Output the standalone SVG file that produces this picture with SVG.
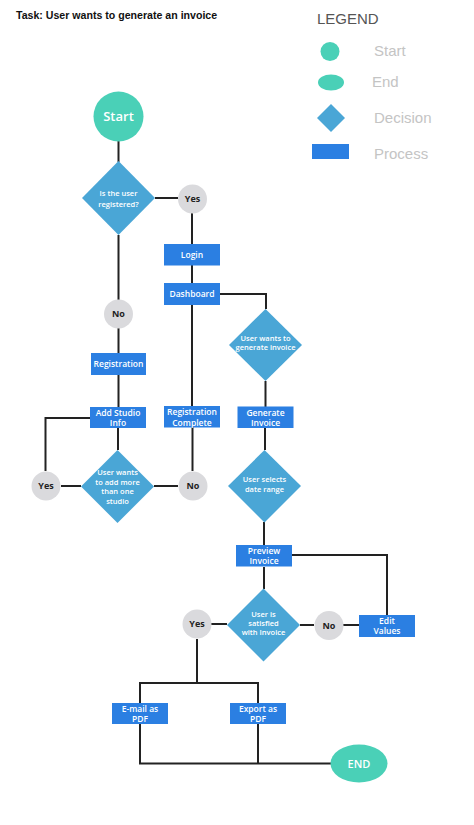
<svg xmlns="http://www.w3.org/2000/svg" width="474" height="825" viewBox="0 0 474 825">
<style>
.ln{fill:none;stroke:#222;stroke-width:2}
.term{fill:#4ad0b7}
.dec{fill:#4aa6d6}
.proc{fill:#2b7fe2}
.yn{fill:#dadadd}
.t{font-family:"Open Sans","Liberation Sans",sans-serif;font-weight:600;fill:#fff;text-anchor:middle}
.p{font-size:8.5px}
.d{font-size:7.5px}
.ynt{font-family:"Open Sans","Liberation Sans",sans-serif;font-weight:700;font-size:9px;fill:#222;text-anchor:middle}
.lg{font-family:"Liberation Sans",sans-serif;font-size:15px;fill:#c4c4c4}
</style>
<rect width="474" height="825" fill="#fff"/>
<text x="16" y="19" font-family="Liberation Sans, sans-serif" font-weight="700" font-size="10.6" fill="#111">Task: User wants to generate an invoice</text>
<g id="legend">
<text x="317" y="24" font-family="Liberation Sans, sans-serif" font-size="15" fill="#555">LEGEND</text>
<circle class="term" cx="330" cy="51.5" r="9.5"/>
<text class="lg" x="374" y="56">Start</text>
<ellipse class="term" cx="331" cy="82.5" rx="13" ry="8"/>
<text class="lg" x="372" y="87">End</text>
<path class="dec" d="M331 104 L345 118 L331 132 L317 118 Z"/>
<text class="lg" x="374" y="123">Decision</text>
<rect class="proc" x="312" y="144" width="37" height="15"/>
<text class="lg" x="374" y="159">Process</text>
</g>
<g id="connectors">
<path class="ln" d="M118.5 141 V162"/>
<path class="ln" d="M155 198 H178"/>
<path class="ln" d="M192 213 V244 M192 265 V283 M192 305 V406"/>
<path class="ln" d="M220 294 H266 V309"/>
<path class="ln" d="M118.5 235 V353 M118.5 375 V407"/>
<path class="ln" d="M118 428 V450"/>
<path class="ln" d="M90 418 H45.5 V471"/>
<path class="ln" d="M61 486 H81"/>
<path class="ln" d="M154 486 H178"/>
<path class="ln" d="M192.5 427 V471"/>
<path class="ln" d="M265.5 381 V407 M265 428 V450"/>
<path class="ln" d="M264 522 V545 M264 567 V589"/>
<path class="ln" d="M292 555 H387 V615"/>
<path class="ln" d="M211 624 H227"/>
<path class="ln" d="M300 625 H314 M343 625 H359"/>
<path class="ln" d="M197 639 V683 M140 703 V683 H258 V703"/>
<path class="ln" d="M140 724 V763.5 H331 M258 724 V763.5"/>
</g>
<g id="start">
<circle class="term" cx="118.5" cy="116.5" r="25"/>
<text class="t" x="118.5" y="121" font-size="13">Start</text>
</g>
<g id="d-registered">
<path class="dec" d="M118.5 161 L155 198 L118.5 235 L82 198 Z"/>
<text class="t d" x="118.5" y="196">Is the user</text>
<text class="t d" x="118.5" y="207">registered?</text>
</g>
<g id="yes1"><circle class="yn" cx="192.5" cy="199" r="14.5"/><text class="ynt" x="192.5" y="202">Yes</text></g>
<g id="login"><rect class="proc" x="164" y="244" width="56" height="21.5"/><text class="t p" x="192" y="258">Login</text></g>
<g id="dashboard"><rect class="proc" x="164" y="283" width="56" height="22"/><text class="t p" x="192" y="297">Dashboard</text></g>
<g id="no1"><circle class="yn" cx="118.5" cy="314" r="14.5"/><text class="ynt" x="118.5" y="317">No</text></g>
<g id="registration"><rect class="proc" x="91" y="353" width="55" height="22"/><text class="t p" x="118.5" y="367">Registration</text></g>
<g id="add-studio"><rect class="proc" x="90" y="407" width="56" height="21"/><text class="t p" x="118" y="415.5">Add Studio</text><text class="t p" x="118" y="426">Info</text></g>
<g id="reg-complete"><rect class="proc" x="164" y="406" width="56" height="21.5"/><text class="t p" x="192" y="415">Registration</text><text class="t p" x="192" y="425.5">Complete</text></g>
<g id="d-studio">
<path class="dec" d="M117.5 450 L154 486.5 L117.5 523 L81 486.5 Z"/>
<text class="t d" x="117.5" y="475">User wants</text>
<text class="t d" x="117.5" y="484.5">to add more</text>
<text class="t d" x="117.5" y="494">than one</text>
<text class="t d" x="117.5" y="503.5">studio</text>
</g>
<g id="yes2"><circle class="yn" cx="46" cy="486" r="14.5"/><text class="ynt" x="46" y="489">Yes</text></g>
<g id="no2"><circle class="yn" cx="193" cy="486" r="14.5"/><text class="ynt" x="193" y="489">No</text></g>
<g id="d-invoice">
<path class="dec" d="M265.5 309 L302 345 L265.5 381 L229 345 Z"/>
<text class="t d" x="265.5" y="340.5">User wants to</text>
<text class="t d" x="265.5" y="350">generate invoice</text>
</g>
<g id="gen-invoice"><rect class="proc" x="237.5" y="406.5" width="56" height="21.5"/><text class="t p" x="265.5" y="415.5">Generate</text><text class="t p" x="265.5" y="426">Invoice</text></g>
<g id="d-date">
<path class="dec" d="M264.5 450 L301 486 L264.5 522.5 L228 486 Z"/>
<text class="t d" x="264.5" y="482">User selects</text>
<text class="t d" x="264.5" y="491.5">date range</text>
</g>
<g id="preview"><rect class="proc" x="236" y="545" width="56" height="21.5"/><text class="t p" x="264" y="553.5">Preview</text><text class="t p" x="264" y="564">Invoice</text></g>
<g id="d-satisfied">
<path class="dec" d="M263.5 588.5 L300 625 L263.5 661.5 L227 625 Z"/>
<text class="t d" x="263.5" y="617">User is</text>
<text class="t d" x="263.5" y="626">satisfied</text>
<text class="t d" x="263.5" y="635">with Invoice</text>
</g>
<g id="yes3"><circle class="yn" cx="197" cy="624" r="14.5"/><text class="ynt" x="197" y="627">Yes</text></g>
<g id="no3"><circle class="yn" cx="329" cy="625.5" r="14.5"/><text class="ynt" x="329" y="628.5">No</text></g>
<g id="edit-values"><rect class="proc" x="359" y="615" width="56" height="22"/><text class="t p" x="387" y="623.5">Edit</text><text class="t p" x="387" y="634">Values</text></g>
<g id="email-pdf"><rect class="proc" x="112" y="703" width="56" height="21"/><text class="t p" x="140" y="711.5">E-mail as</text><text class="t p" x="140" y="722">PDF</text></g>
<g id="export-pdf"><rect class="proc" x="230" y="703" width="56" height="21"/><text class="t p" x="258" y="711.5">Export as</text><text class="t p" x="258" y="722">PDF</text></g>
<g id="end">
<ellipse class="term" cx="359" cy="763.5" rx="28.5" ry="19"/>
<text class="t" x="359" y="767.5" font-size="11">END</text>
</g>
</svg>
